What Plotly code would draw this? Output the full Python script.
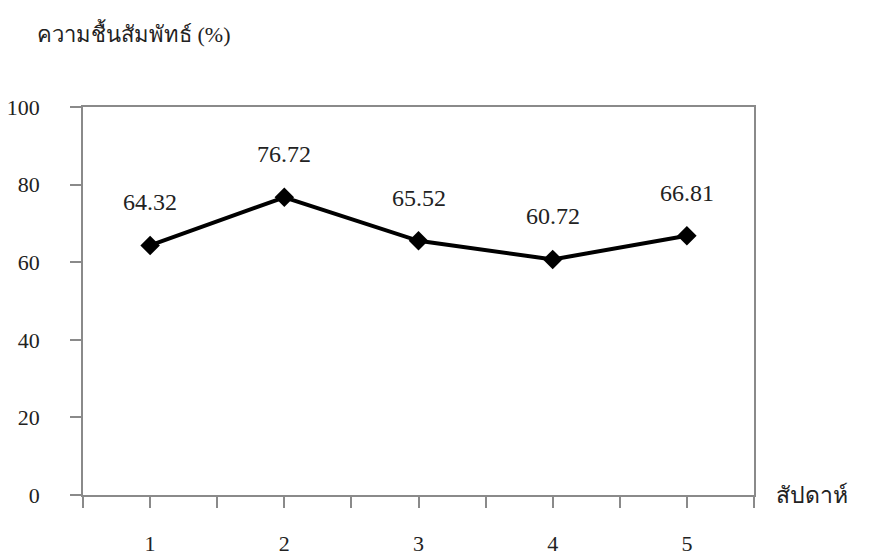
import plotly.graph_objects as go

# Weekly relative humidity
weeks = [1, 2, 3, 4, 5]
humidity = [64.32, 76.72, 65.52, 60.72, 66.81]
y_ticks = [0, 20, 40, 60, 80, 100]

serif = "Liberation Serif, Times New Roman, serif"
axis_grey = "#8a8a8a"

fig = go.Figure()
fig.add_trace(go.Scatter(
    x=weeks, y=humidity, mode="lines+markers",
    line=dict(color="black", width=4),
    marker=dict(symbol="diamond", size=15, color="black"),
    showlegend=False, hoverinfo="x+y",
))

# value labels above each point
for w, h in zip(weeks, humidity):
    fig.add_annotation(x=w, y=h, text=f"{h:.2f}", showarrow=False,
                       yshift=43, font=dict(family=serif, size=24, color="#222"))

# minor tick positions between and at categories
xticks = [0.5 + 0.5 * i for i in range(11)]
xlabels = [str(int(t)) if float(t).is_integer() and 1 <= t <= 5 else "" for t in xticks]

fig.update_xaxes(range=[0.5, 5.5], tickvals=xticks, ticktext=xlabels,
                 ticks="outside", ticklen=11, tickcolor=axis_grey, tickwidth=1.5,
                 showline=True, linecolor=axis_grey, linewidth=1.5, mirror=True,
                 showgrid=False, zeroline=False, ticklabelstandoff=17,
                 automargin=False,
                 tickfont=dict(family=serif, size=22, color="#222"))
fig.update_yaxes(range=[0, 100], tickvals=y_ticks,
                 ticks="outside", ticklen=11, tickcolor=axis_grey, tickwidth=1.5,
                 showline=True, linecolor=axis_grey, linewidth=1.5, mirror=True,
                 showgrid=False, zeroline=False, ticklabelstandoff=26,
                 automargin=False,
                 tickfont=dict(family=serif, size=22, color="#222"))

fig.add_annotation(xref="paper", yref="paper", x=-0.072, y=1.19,
                   xanchor="left", yanchor="middle", showarrow=False,
                   text="ความชื้นสัมพัทธ์ (%)",
                   font=dict(family=serif, size=22, color="#222"))
fig.add_annotation(xref="paper", yref="paper", x=1.03, y=0.0,
                   xanchor="left", yanchor="middle", showarrow=False,
                   text="สัปดาห์",
                   font=dict(family=serif, size=23, color="#222"))

fig.update_layout(width=885, height=558, plot_bgcolor="white", paper_bgcolor="white",
                  margin=dict(l=83, r=131, t=107, b=63, autoexpand=False))
fig.write_html("out.html")
